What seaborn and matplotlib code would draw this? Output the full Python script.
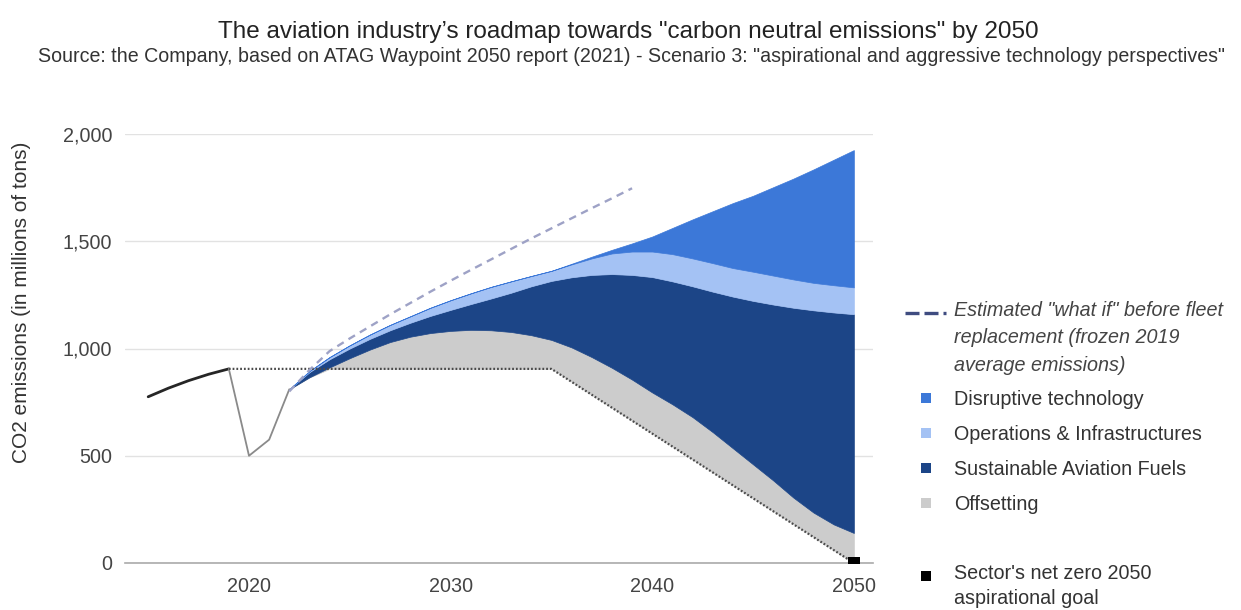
import numpy as np
import pandas as pd
import matplotlib
matplotlib.use("Agg")
import matplotlib.pyplot as plt
import seaborn as sns
from matplotlib.lines import Line2D
from matplotlib.legend_handler import HandlerLine2D
from matplotlib.ticker import FuncFormatter

# ---------------- data ----------------
hist_years = [2015, 2016, 2017, 2018, 2019]
hist_vals = [775, 815, 850, 880, 905]

covid_years = [2019, 2020, 2021, 2022]
covid_vals = [905, 500, 575, 810]

target_years = [2019, 2035, 2050]
target_vals = [905, 905, 0]

whatif_years = list(range(2022, 2040))
whatif_vals = [800, 900, 988, 1047, 1103, 1159, 1212, 1265, 1316, 1366,
               1415, 1464, 1513, 1560, 1607, 1654, 1700, 1747]

years = list(range(2022, 2051))
base_vals = [810, 865, 905, 905, 905, 905, 905, 905, 905, 905, 905, 905, 905, 905,
             845, 784, 724, 663, 603, 543, 483, 422, 362, 302, 241, 181, 121, 60, 0]
offsetting = [0, 1, 7, 50, 90, 125, 150, 167, 177, 182, 180, 172, 157, 135,
              160, 176, 186, 192, 192, 197, 197, 188, 173, 158, 144, 124, 114, 120, 140]
saf = [0, 24, 38, 45, 50, 55, 65, 80, 98, 120, 148, 183, 228, 275,
       327, 383, 437, 488, 538, 573, 610, 655, 707, 762, 820, 885, 943, 988, 1020]
operations = [0, 5, 10, 15, 20, 25, 30, 38, 45, 50, 54, 53, 48, 47,
              60, 77, 96, 109, 119, 127, 130, 133, 133, 136, 135, 132, 128, 127, 125]
disruptive = [0, 0, 0, 0, 0, 0, 0, 0, 0, 0, 0, 0, 0, 0,
              3, 8, 17, 38, 70, 122, 182, 242, 303, 354, 412, 470, 529, 585, 640]

goal_years = [2050]
goal_vals = [0]

layer_names = ["Offsetting", "Sustainable Aviation Fuels",
               "Operations & Infrastructures", "Disruptive technology"]
layer_colors = ["#cccccc", "#1c4587", "#a4c2f4", "#3c78d8"]
y_ticks = [0, 500, 1000, 1500, 2000]
x_ticks = [2020, 2030, 2040, 2050]

title = "The aviation industry\u2019s roadmap towards \"carbon neutral emissions\" by 2050"
subtitle = ("Source: the Company, based on ATAG Waypoint 2050 report (2021) - Scenario 3: "
            "\"aspirational and aggressive technology perspectives\"")
whatif_label = "Estimated \"what if\" before fleet\nreplacement (frozen 2019\naverage emissions)"
goal_label = "Sector's net zero 2050\naspirational goal"

# ---------------- style ----------------
sns.set_theme(style="white")
plt.rcParams["font.family"] = ["Liberation Sans", "DejaVu Sans"]

W, H = 1241, 610
fig = plt.figure(figsize=(W / 100, H / 100), dpi=100)
ax = fig.add_axes([125 / W, 1 - 563 / H, (873 - 125) / W, (563 - 134) / H])

# stacked areas
df = pd.DataFrame({"year": years, "base": base_vals, "Offsetting": offsetting,
                   "Sustainable Aviation Fuels": saf,
                   "Operations & Infrastructures": operations,
                   "Disruptive technology": disruptive})
cum = df["base"].to_numpy(dtype=float)
for name, col in zip(layer_names, layer_colors):
    top = cum + df[name].to_numpy(dtype=float)
    ax.fill_between(df["year"], cum, top, color=col, edgecolor=col, lw=0.5, zorder=2)
    cum = top

# lines
sns.lineplot(x=hist_years, y=hist_vals, ax=ax, color="#262626", lw=2.0, zorder=4)
sns.lineplot(x=covid_years, y=covid_vals, ax=ax, color="#8a8a8a", lw=1.3, zorder=4)
sns.lineplot(x=target_years, y=target_vals, ax=ax, color="#4a4a4a", lw=1.6,
             linestyle=(0, (0.8, 0.9)), zorder=5)
sns.lineplot(x=whatif_years, y=whatif_vals, ax=ax, color="#9ea2c6", lw=1.7,
             linestyle=(0, (3.2, 2.4)), zorder=5)
ax.plot(goal_years, goal_vals, marker="s", ms=9.0, mew=0, color="black", ls="none",
        zorder=6, clip_on=True)

# axes
ax.set_xlim(2013.85, 2050.95)
ax.set_ylim(0, 2000)
ax.set_yticks(y_ticks)
ax.set_xticks(x_ticks)
ax.yaxis.set_major_formatter(FuncFormatter(lambda v, p: f"{int(v):,}"))
ax.tick_params(axis="both", length=0, labelsize=14.2, labelcolor="#444444")
ax.tick_params(axis="y", pad=9)
ax.tick_params(axis="x", pad=10)
ax.grid(axis="y", color="#e2e2e2", lw=1.0, zorder=0)
ax.grid(axis="x", visible=False)
for s in ["left", "right", "top"]:
    ax.spines[s].set_visible(False)
ax.spines["bottom"].set_color("#aaaaaa")
ax.spines["bottom"].set_linewidth(1.2)
ax.set_xlabel("")
ax.set_ylabel("")

# texts
fig.text(0.506, 1 - 32 / H, title, ha="center", va="center", fontsize=17.5, color="#222222")
fig.text(0.509, 1 - 57 / H, subtitle, ha="center", va="center", fontsize=14.1, color="#333333")
fig.text(22 / W, 1 - 302 / H, "CO2 emissions (in millions of tons)", rotation=90,
         ha="center", va="center", fontsize=15, color="#333333")


# legend
class ShiftedHandler(HandlerLine2D):
    def __init__(self, shift, **kw):
        super().__init__(**kw)
        self.shift = shift

    def create_artists(self, legend, orig_handle, xdescent, ydescent, width,
                       height, fontsize, trans):
        arts = super().create_artists(legend, orig_handle, xdescent, ydescent,
                                      width, height, fontsize, trans)
        for a in arts:
            a.set_ydata(np.asarray(a.get_ydata(), dtype=float) + self.shift)
        return arts


whatif_handle = Line2D([], [], color="#3f4c80", lw=2.4, linestyle=(0, (4.2, 1.5)))
handles = [whatif_handle]
for name, col in zip(layer_names[::-1], layer_colors[::-1]):
    handles.append(Line2D([], [], marker="s", ms=7.5, mew=0, color=col, ls="none"))
handles.append(Line2D([], [], ls="none"))
goal_handle = Line2D([], [], marker="s", ms=7.5, mew=0, color="black", ls="none")
handles.append(goal_handle)
labels = [whatif_label] + layer_names[::-1] + [""] + [goal_label]
leg = ax.legend(handles, labels, loc="upper left", bbox_to_anchor=(905 / W, 1 - 301 / H),
                bbox_transform=fig.transFigure, frameon=False, fontsize=14.2,
                handlelength=2.1, handletextpad=0.4, labelspacing=0.8,
                borderpad=0, borderaxespad=0,
                handler_map={whatif_handle: ShiftedHandler(18.0),
                             goal_handle: ShiftedHandler(8.0, marker_pad=0.3)})
texts = leg.get_texts()
for i, t in enumerate(texts):
    t.set_color("#333333")
    t.set_linespacing(1.55)
    if i == 0:
        t.set_style("italic")
        t.set_color("#444444")
texts[-1].set_linespacing(1.38)

fig.savefig("out.png", dpi=100)
